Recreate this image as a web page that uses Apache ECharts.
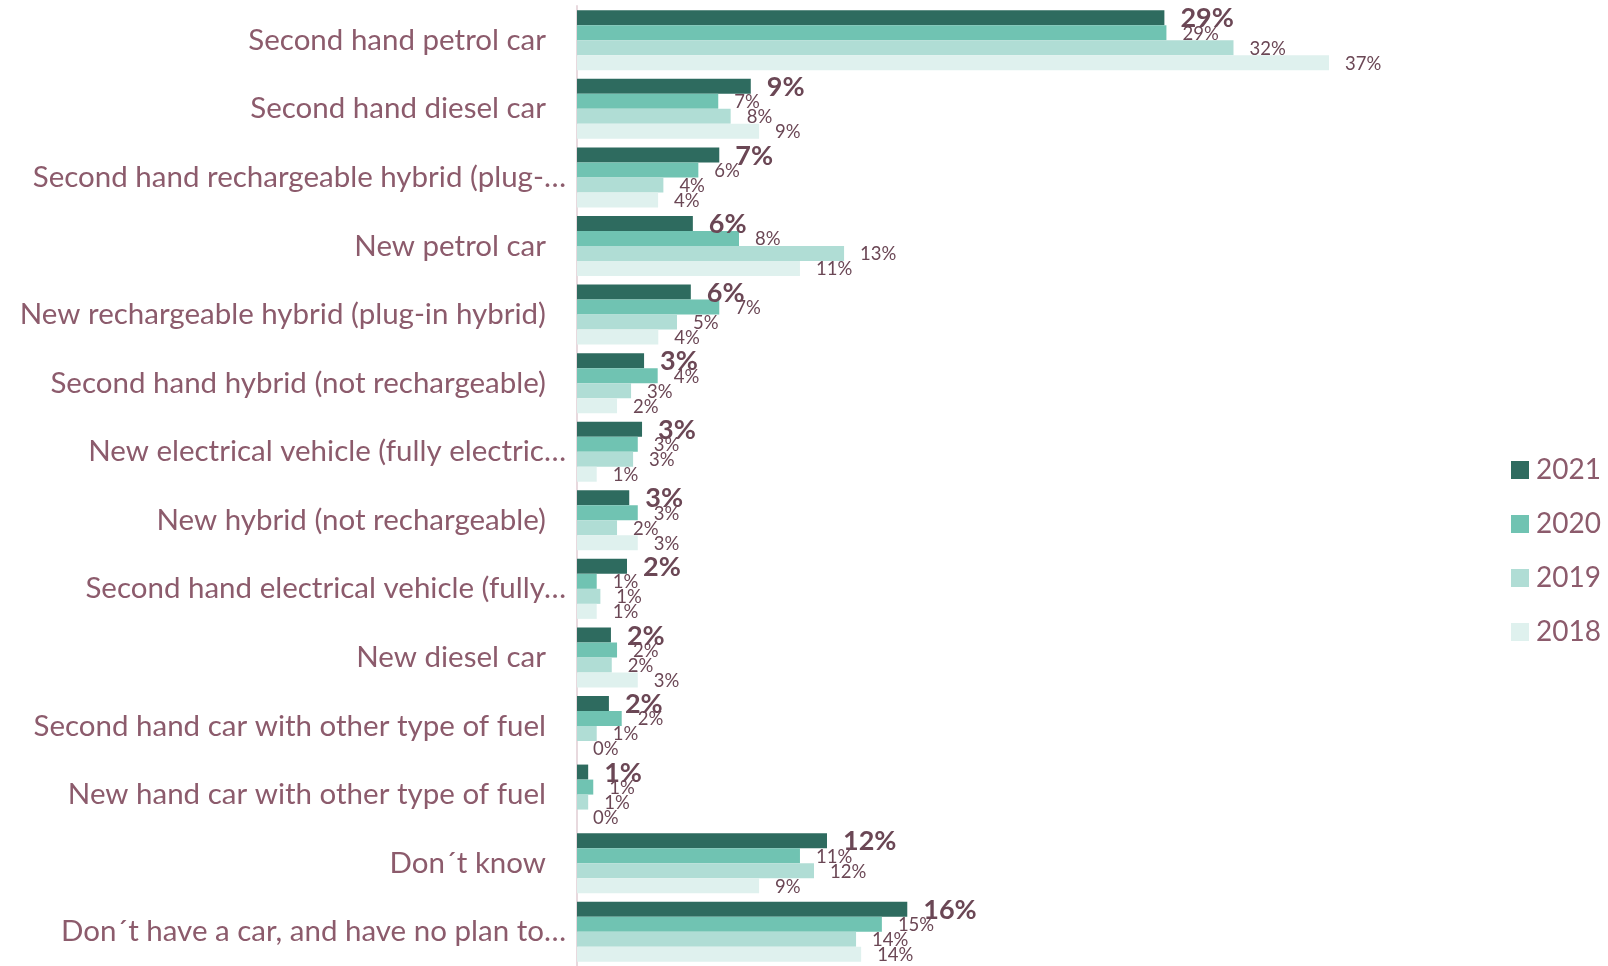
<!DOCTYPE html>
<html>
<head>
<meta charset="utf-8">
<title>Car purchase plans</title>
<script src="https://cdn.jsdelivr.net/npm/echarts@6/dist/echarts.min.js"></script>
<style>
  html, body { margin: 0; padding: 0; background: #fff; }
  #chart { width: 1608px; height: 966px; }
</style>
</head>
<body>
<div id="chart"></div>
<script>
// categories, top to bottom
var categories = [
  'Second hand petrol car',
  'Second hand diesel car',
  'Second hand rechargeable hybrid (plug-…',
  'New petrol car',
  'New rechargeable hybrid (plug-in hybrid)',
  'Second hand hybrid (not rechargeable)',
  'New electrical vehicle (fully electric…',
  'New hybrid (not rechargeable)',
  'Second hand electrical vehicle (fully…',
  'New diesel car',
  'Second hand car with other type of fuel',
  'New hand car with other type of fuel',
  'Don´t know',
  'Don´t have a car, and have no plan to…'
];

var years = ['2021', '2020', '2019', '2018'];

// shares in %
var data2021 = [28.9, 8.55, 7.0, 5.7, 5.6, 3.3, 3.2, 2.57, 2.46, 1.67, 1.57, 0.55, 12.3, 16.25];
var data2020 = [29.0, 6.95, 5.97, 7.97, 7.0, 3.97, 2.99, 2.99, 0.97, 1.97, 2.2, 0.8, 10.97, 15.0];
var data2019 = [32.3, 7.56, 4.25, 13.14, 4.92, 2.66, 2.76, 1.97, 1.15, 1.71, 0.97, 0.55, 11.66, 13.73];
var data2018 = [37.0, 8.96, 3.99, 10.97, 4.0, 1.97, 0.97, 2.99, 0.97, 2.99, 0, 0, 8.96, 13.98];

var colors = ['#2e6b5f', '#70c3b2', '#b0ddd5', '#dff1ee'];
var seriesData = [data2021, data2020, data2019, data2018];

var chart = echarts.init(document.getElementById('chart'));

var series = years.map(function (y, i) {
  return {
    name: y,
    type: 'bar',
    data: seriesData[i],
    barGap: '0%',
    barCategoryGap: '12.5%',
    itemStyle: { color: colors[i] },
    label: {
      show: true,
      position: 'right',
      distance: 16,
      offset: [0, 1],
      color: '#6b4755',
      fontFamily: 'Lato',
      fontSize: i === 0 ? 27 : 18.5,
      fontWeight: i === 0 ? 'bold' : 'normal',
      formatter: function (p) {
        return Math.round(p.value) + '%';
      }
    }
  };
});

chart.setOption({
  animation: false,
  textStyle: { fontFamily: 'Lato' },
  legend: {
    data: years,
    orient: 'vertical',
    left: 1511,
    top: 456,
    padding: 0,
    icon: 'rect',
    itemWidth: 18,
    itemHeight: 18,
    itemGap: 26,
    textStyle: {
      color: '#8c5b6c',
      fontSize: 28,
      lineHeight: 28,
      fontFamily: 'Lato',
      padding: [0, 0, 0, 2]
    }
  },
  grid: {
    left: 577,
    top: 6,
    width: 813,
    height: 960
  },
  xAxis: {
    type: 'value',
    min: 0,
    max: 40,
    show: false
  },
  yAxis: {
    type: 'category',
    inverse: true,
    data: categories,
    axisLine: { show: true, lineStyle: { color: '#e8d9de', width: 2 } },
    axisTick: { show: false },
    axisLabel: {
      margin: 11,
      formatter: function (v) {
        // cut-off names run right up to the axis, the others stop short of it
        return v.slice(-1) === '…' ? '{t|' + v + '}' : '{n|' + v + '}';
      },
      rich: {
        n: { color: '#8c5b6c', fontSize: 29.5, fontFamily: 'Lato', padding: [0, 20, 0, 0] },
        t: { color: '#8c5b6c', fontSize: 29.5, fontFamily: 'Lato' }
      }
    }
  },
  series: series
});
</script>
</body>
</html>
